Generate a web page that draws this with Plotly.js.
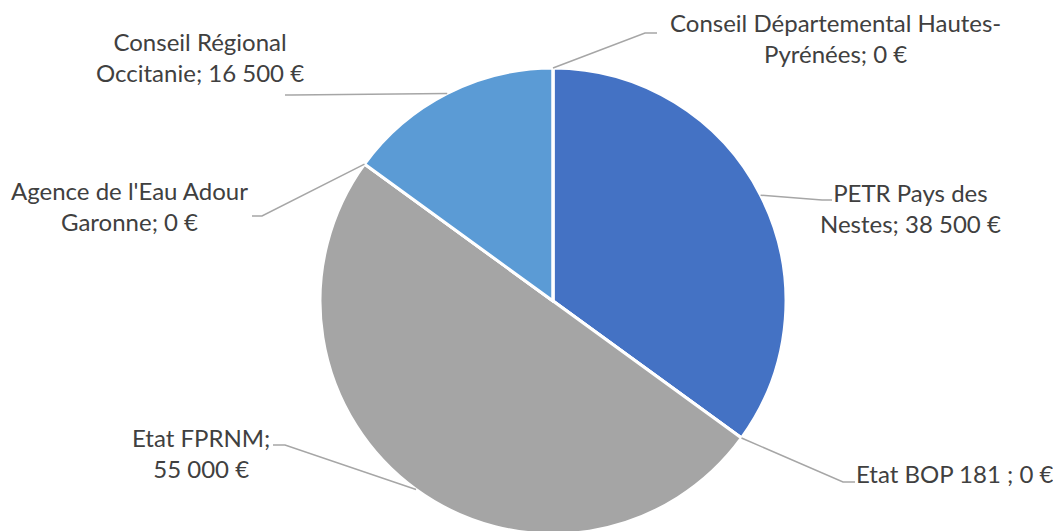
<!DOCTYPE html>
<html>
<head>
<meta charset="utf-8">
<script src="https://cdn.plot.ly/plotly-3.0.1.min.js"></script>
<style>
  html, body { margin: 0; padding: 0; overflow: hidden; background: #fff; }
</style>
</head>
<body>
<div id="chart"></div>
<script>
// funding sources, clockwise from 12 o'clock
var sources = [
  "PETR Pays des Nestes",
  "Etat BOP 181 ",
  "Etat FPRNM",
  "Agence de l'Eau Adour Garonne",
  "Conseil Régional Occitanie",
  "Conseil Départemental Hautes-Pyrénées"
];
var amounts = [38500, 0, 55000, 0, 16500, 0];
var colors = ["#4472C4", "#ED7D31", "#A5A5A5", "#FFC000", "#5B9BD5", "#70AD47"];

// how each data label wraps (text before the break, text after)
var labelWrap = [
  ["PETR Pays des", "Nestes"],
  ["Etat BOP 181 ", ""],
  ["Etat FPRNM", ""],
  ["Agence de l'Eau Adour", "Garonne"],
  ["Conseil Régional", "Occitanie"],
  ["Conseil Départemental Hautes-", "Pyrénées"]
];
var valueOnNewLine = [false, false, true, false, false, false];

// label placement (px): leader elbow, leader end, text centre
var elbow = [[822, 200], [843, 482], [285, 445], [262, 216], [292, 95], [645, 33]];
var lineEnd = [[832, 200], [855, 482], [273, 445], [252, 216], [285, 95], [657, 33]];
var textAt = [[910, 208], [954, 473], [201, 453], [129, 206], [200, 57], [835, 38]];

var W = 1053, H = 534;
var cx = 553, cy = 301, R = 233;

function fmt(v) {
  return v.toString().replace(/\B(?=(\d{3})+(?!\d))/g, " ") + " €";
}
function px(x) { return x / W; }
function py(y) { return 1 - y / H; }

var total = amounts.reduce(function (a, b) { return a + b; }, 0);
var shapes = [];
var annotations = [];
var cum = 0;
for (var i = 0; i < amounts.length; i++) {
  var mid = (cum + amounts[i] / 2) / total * 2 * Math.PI;
  cum += amounts[i];
  var ax = cx + R * Math.sin(mid), ay = cy - R * Math.cos(mid);
  shapes.push({
    type: "path", xref: "paper", yref: "paper",
    path: "M " + px(ax) + " " + py(ay) + " L " + px(elbow[i][0]) + " " + py(elbow[i][1]) +
          " L " + px(lineEnd[i][0]) + " " + py(lineEnd[i][1]),
    line: {color: "#A6A6A6", width: 1.5}
  });
  var txt;
  if (labelWrap[i][1] === "") {
    txt = labelWrap[i][0] + ";" + (valueOnNewLine[i] ? "<br>" : " ") + fmt(amounts[i]);
  } else {
    txt = labelWrap[i][0] + "<br>" + labelWrap[i][1] + "; " + fmt(amounts[i]);
  }
  annotations.push({
    xref: "paper", yref: "paper", x: px(textAt[i][0]), y: py(textAt[i][1]),
    xanchor: "center", yanchor: "middle", align: "center",
    text: txt, showarrow: false,
    font: {family: "Lato, sans-serif", size: 24, color: "#404040"}
  });
}

var data = [{
  type: "pie",
  labels: sources,
  values: amounts,
  sort: false,
  direction: "clockwise",
  rotation: 0,
  textinfo: "none",
  hoverinfo: "label+value",
  marker: {colors: colors, line: {color: "#ffffff", width: 3}},
  domain: {x: [(cx - R) / W, (cx + R) / W], y: [0, (H - (cy - R)) / H]}
}];

var layout = {
  width: W,
  height: H,
  margin: {l: 0, r: 0, t: 0, b: 0},
  showlegend: false,
  paper_bgcolor: "#ffffff",
  shapes: shapes,
  annotations: annotations
};

Plotly.newPlot("chart", data, layout, {displayModeBar: false, staticPlot: true});
</script>
</body>
</html>
